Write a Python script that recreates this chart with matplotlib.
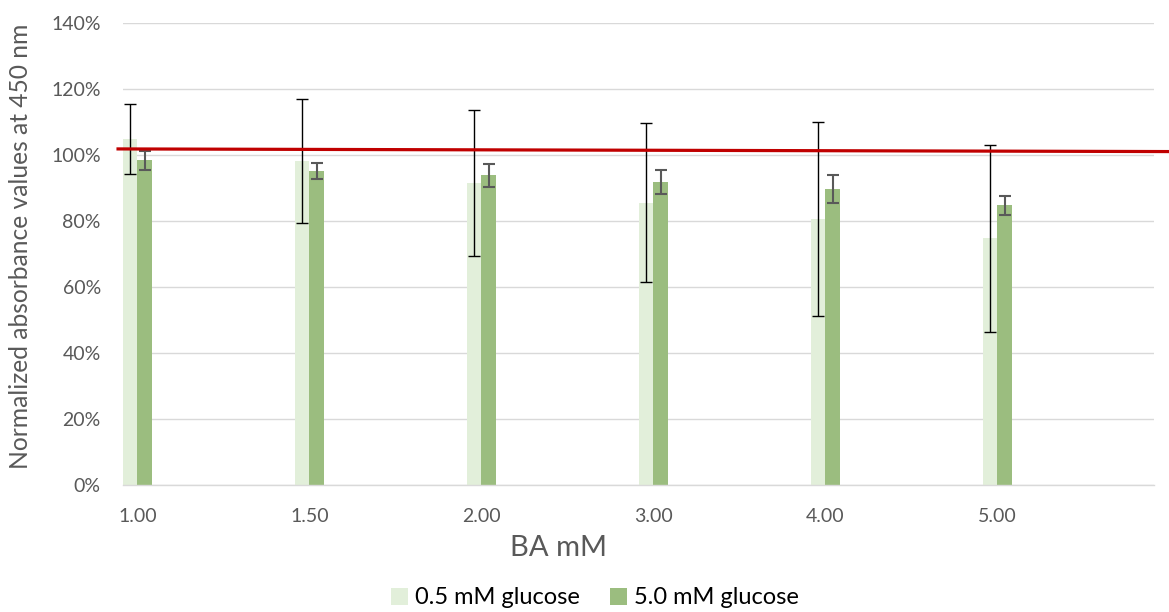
import numpy as np
import matplotlib.pyplot as plt
from matplotlib.ticker import PercentFormatter

# BA concentration categories
categories = ["1.00", "1.50", "2.00", "3.00", "4.00", "5.00"]

# normalized absorbance (fraction of control)
low_glucose = [1.047, 0.982, 0.915, 0.855, 0.805, 0.747]
low_glucose_err = [0.106, 0.187, 0.222, 0.241, 0.294, 0.282]
high_glucose = [0.983, 0.951, 0.938, 0.918, 0.897, 0.848]
high_glucose_err = [0.029, 0.025, 0.034, 0.036, 0.043, 0.029]

# red reference line (start / end level)
ref_level = [1.018, 1.010]

series_names = ["0.5 mM glucose", "5.0 mM glucose"]

plt.rcParams['font.family'] = ['Lato', 'DejaVu Sans']

W, H = 1169, 612
fig = plt.figure(figsize=(W / 100, H / 100), dpi=100)
ax = fig.add_axes([123 / W, 1 - 485.3 / H, (1154 - 123) / W, (485.3 - 22.7) / H])

x = np.arange(len(categories))
w = 0.084

ax.bar(x - w / 2, low_glucose, w, color="#E2EFDA", label=series_names[0], zorder=2)
ax.bar(x + w / 2, high_glucose, w, color="#9BBD7F", label=series_names[1], zorder=2)

ax.errorbar(x - w / 2, low_glucose, yerr=low_glucose_err, fmt="none",
            ecolor="#000000", elinewidth=1.0, capsize=4.4, capthick=1.0, zorder=3)
ax.errorbar(x + w / 2, high_glucose, yerr=high_glucose_err, fmt="none",
            ecolor="#595959", elinewidth=1.5, capsize=4.4, capthick=1.5, zorder=3)

ax.set_xlim(-0.0843, 5.91)
ax.set_ylim(0, 1.4)

# reference line, runs a little past the plot area on both sides
ax.plot([-0.113, 6.0], ref_level, color="#C00000", lw=2.3, zorder=4, clip_on=False)

ax.set_yticks(np.arange(0, 1.41, 0.2))
ax.yaxis.set_major_formatter(PercentFormatter(1.0, decimals=0))
ax.set_xticks(x)
ax.set_xticklabels(categories)
ax.tick_params(axis="both", length=0, labelsize=14, colors="#595959")
ax.tick_params(axis="x", pad=16)
ax.tick_params(axis="y", pad=16)

ax.grid(axis="y", color="#D9D9D9", lw=1.0, zorder=0)
ax.set_axisbelow(True)
for s in ["top", "right", "left"]:
    ax.spines[s].set_visible(False)
ax.spines["bottom"].set_color("#D9D9D9")
ax.spines["bottom"].set_linewidth(1.0)

# axis titles placed in figure fractions
fig.text(558 / W, 1 - 548 / H, "BA mM", fontsize=21, color="#595959",
         ha="center", va="center")
fig.text(21 / W, 1 - 246 / H, "Normalized absorbance values at 450 nm", fontsize=17.7,
         color="#595959", rotation=90, ha="center", va="center")

fig.legend(loc="center", bbox_to_anchor=(595 / W, 1 - 598 / H), ncol=2, frameon=False,
           fontsize=17, handlelength=0.7, handleheight=0.7, handletextpad=0.3,
           columnspacing=1.3, borderaxespad=0)

fig.savefig("out.png", dpi=100)
